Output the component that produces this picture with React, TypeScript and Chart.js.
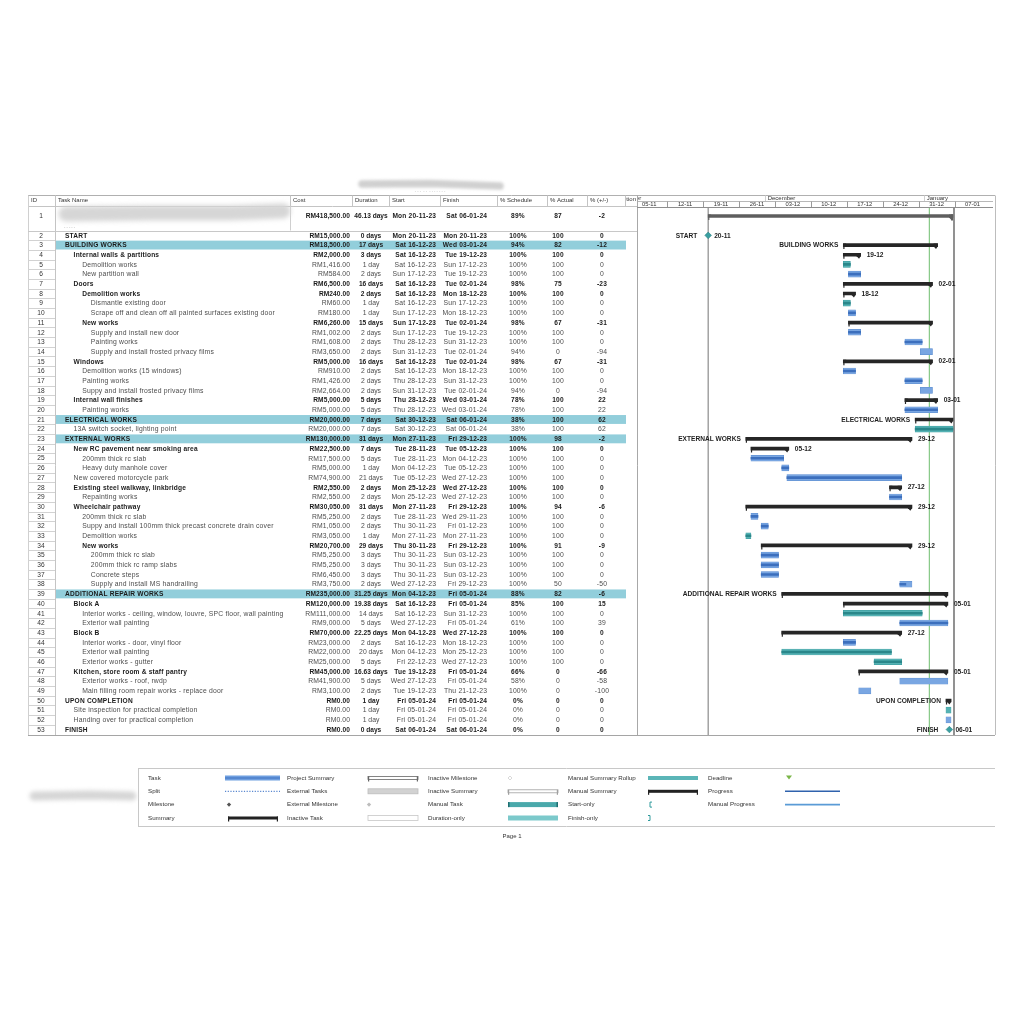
import React, { useEffect, useRef } from "react";
import { Chart, registerables } from "chart.js";

Chart.register(...registerables);

// ---------------- data ----------------
const taskIds = [
  1, 2, 3, 4, 5, 6, 7, 8, 9, 10, 11, 12, 13, 14, 15, 16, 17, 18, 19, 20, 21, 22, 23, 24, 25, 26, 27,
  28, 29, 30, 31, 32, 33, 34, 35, 36, 37, 38, 39, 40, 41, 42, 43, 44, 45, 46, 47, 48, 49, 50, 51, 52, 53,
];

const taskNames = [
  "",
  "START",
  "BUILDING WORKS",
  "Internal walls & partitions",
  "Demolition works",
  "New partition wall",
  "Doors",
  "Demolition works",
  "Dismantle existing door",
  "Scrape off and clean off all painted surfaces existing door",
  "New works",
  "Supply and install new door",
  "Painting works",
  "Supply and install frosted privacy films",
  "Windows",
  "Demolition works (15 windows)",
  "Painting works",
  "Suppy and install frosted privacy films",
  "Internal wall finishes",
  "Painting works",
  "ELECTRICAL WORKS",
  "13A switch socket, lighting point",
  "EXTERNAL WORKS",
  "New RC pavement near smoking area",
  "200mm thick rc slab",
  "Heavy duty manhole cover",
  "New covered motorcycle park",
  "Existing steel walkway, linkbridge",
  "Repainting works",
  "Wheelchair pathway",
  "200mm thick rc slab",
  "Suppy and install 100mm thick precast concrete drain cover",
  "Demolition works",
  "New works",
  "200mm thick rc slab",
  "200mm thick rc ramp slabs",
  "Concrete steps",
  "Supply and install MS handrailing",
  "ADDITIONAL REPAIR WORKS",
  "Block A",
  "Interior works - ceiling, window, louvre, SPC floor, wall painting",
  "Exterior wall painting",
  "Block B",
  "Interior works - door, vinyl floor",
  "Exterior wall painting",
  "Exterior works - gutter",
  "Kitchen, store room & staff pantry",
  "Exterior works - roof, rwdp",
  "Main filling room repair works - replace door",
  "UPON COMPLETION",
  "Site inspection for practical completion",
  "Handing over for practical completion",
  "FINISH",
];

const outlineLevels = [
  0, 1, 1, 2, 3, 3, 2, 3, 4, 4, 3, 4, 4, 4, 2, 3, 3, 3, 2, 3, 1, 2, 1, 2, 3, 3, 2, 2, 3, 2, 3, 3, 3,
  3, 4, 4, 4, 4, 1, 2, 3, 3, 2, 3, 3, 3, 2, 3, 3, 1, 2, 2, 1,
];

// P = project summary, S = summary, M = milestone, T = auto task, C = manual task
const barKinds = [
  "P", "M", "S", "S", "C", "T", "S", "S", "C", "T", "S", "T", "T", "T", "S", "T", "T", "T", "S", "T",
  "S", "C", "S", "S", "T", "T", "T", "S", "T", "S", "T", "T", "C", "S", "T", "T", "T", "T", "S", "S",
  "C", "T", "S", "T", "C", "C", "S", "T", "T", "S", "C", "T", "M",
];

const costs = [
  "RM418,500.00", "RM15,000.00", "RM18,500.00", "RM2,000.00", "RM1,416.00", "RM584.00", "RM6,500.00",
  "RM240.00", "RM60.00", "RM180.00", "RM6,260.00", "RM1,002.00", "RM1,608.00", "RM3,650.00",
  "RM5,000.00", "RM910.00", "RM1,426.00", "RM2,664.00", "RM5,000.00", "RM5,000.00", "RM20,000.00",
  "RM20,000.00", "RM130,000.00", "RM22,500.00", "RM17,500.00", "RM5,000.00", "RM74,900.00",
  "RM2,550.00", "RM2,550.00", "RM30,050.00", "RM5,250.00", "RM1,050.00", "RM3,050.00", "RM20,700.00",
  "RM5,250.00", "RM5,250.00", "RM6,450.00", "RM3,750.00", "RM235,000.00", "RM120,000.00",
  "RM111,000.00", "RM9,000.00", "RM70,000.00", "RM23,000.00", "RM22,000.00", "RM25,000.00",
  "RM45,000.00", "RM41,900.00", "RM3,100.00", "RM0.00", "RM0.00", "RM0.00", "RM0.00",
];

const durations = [
  "46.13 days", "0 days", "17 days", "3 days", "1 day", "2 days", "16 days", "2 days", "1 day", "1 day",
  "15 days", "2 days", "2 days", "2 days", "16 days", "2 days", "2 days", "2 days", "5 days", "5 days",
  "7 days", "7 days", "31 days", "7 days", "5 days", "1 day", "21 days", "2 days", "2 days", "31 days",
  "2 days", "2 days", "1 day", "29 days", "3 days", "3 days", "3 days", "2 days", "31.25 days",
  "19.38 days", "14 days", "5 days", "22.25 days", "2 days", "20 days", "5 days", "16.63 days", "5 days",
  "2 days", "1 day", "1 day", "1 day", "0 days",
];

const startDates = [
  "Mon 20-11-23", "Mon 20-11-23", "Sat 16-12-23", "Sat 16-12-23", "Sat 16-12-23", "Sun 17-12-23",
  "Sat 16-12-23", "Sat 16-12-23", "Sat 16-12-23", "Sun 17-12-23", "Sun 17-12-23", "Sun 17-12-23",
  "Thu 28-12-23", "Sun 31-12-23", "Sat 16-12-23", "Sat 16-12-23", "Thu 28-12-23", "Sun 31-12-23",
  "Thu 28-12-23", "Thu 28-12-23", "Sat 30-12-23", "Sat 30-12-23", "Mon 27-11-23", "Tue 28-11-23",
  "Tue 28-11-23", "Mon 04-12-23", "Tue 05-12-23", "Mon 25-12-23", "Mon 25-12-23", "Mon 27-11-23",
  "Tue 28-11-23", "Thu 30-11-23", "Mon 27-11-23", "Thu 30-11-23", "Thu 30-11-23", "Thu 30-11-23",
  "Thu 30-11-23", "Wed 27-12-23", "Mon 04-12-23", "Sat 16-12-23", "Sat 16-12-23", "Wed 27-12-23",
  "Mon 04-12-23", "Sat 16-12-23", "Mon 04-12-23", "Fri 22-12-23", "Tue 19-12-23", "Wed 27-12-23",
  "Tue 19-12-23", "Fri 05-01-24", "Fri 05-01-24", "Fri 05-01-24", "Sat 06-01-24",
];

const finishDates = [
  "Sat 06-01-24", "Mon 20-11-23", "Wed 03-01-24", "Tue 19-12-23", "Sun 17-12-23", "Tue 19-12-23",
  "Tue 02-01-24", "Mon 18-12-23", "Sun 17-12-23", "Mon 18-12-23", "Tue 02-01-24", "Tue 19-12-23",
  "Sun 31-12-23", "Tue 02-01-24", "Tue 02-01-24", "Mon 18-12-23", "Sun 31-12-23", "Tue 02-01-24",
  "Wed 03-01-24", "Wed 03-01-24", "Sat 06-01-24", "Sat 06-01-24", "Fri 29-12-23", "Tue 05-12-23",
  "Mon 04-12-23", "Tue 05-12-23", "Wed 27-12-23", "Wed 27-12-23", "Wed 27-12-23", "Fri 29-12-23",
  "Wed 29-11-23", "Fri 01-12-23", "Mon 27-11-23", "Fri 29-12-23", "Sun 03-12-23", "Sun 03-12-23",
  "Sun 03-12-23", "Fri 29-12-23", "Fri 05-01-24", "Fri 05-01-24", "Sun 31-12-23", "Fri 05-01-24",
  "Wed 27-12-23", "Mon 18-12-23", "Mon 25-12-23", "Wed 27-12-23", "Fri 05-01-24", "Fri 05-01-24",
  "Thu 21-12-23", "Fri 05-01-24", "Fri 05-01-24", "Fri 05-01-24", "Sat 06-01-24",
];

const pctSchedule = [
  89, 100, 94, 100, 100, 100, 98, 100, 100, 100, 98, 100, 100, 94, 98, 100, 100, 94, 78, 78, 38, 38,
  100, 100, 100, 100, 100, 100, 100, 100, 100, 100, 100, 100, 100, 100, 100, 100, 88, 85, 100, 61, 100,
  100, 100, 100, 66, 58, 100, 0, 0, 0, 0,
];

const pctActual = [
  87, 100, 82, 100, 100, 100, 75, 100, 100, 100, 67, 100, 100, 0, 67, 100, 100, 0, 100, 100, 100, 100,
  98, 100, 100, 100, 100, 100, 100, 94, 100, 100, 100, 91, 100, 100, 100, 50, 82, 100, 100, 100, 100,
  100, 100, 100, 0, 0, 0, 0, 0, 0, 0,
];

const pctDiff = [
  -2, 0, -12, 0, 0, 0, -23, 0, 0, 0, -31, 0, 0, -94, -31, 0, 0, -94, 22, 22, 62, 62, -2, 0, 0, 0, 0,
  0, 0, -6, 0, 0, 0, -9, 0, 0, 0, -50, -6, 15, 0, 39, 0, 0, 0, 0, -66, -58, -100, 0, 0, 0, 0,
];

const leftBarLabels = [
  "", "START", "BUILDING WORKS", "", "", "", "", "", "", "", "", "", "", "", "", "", "", "", "", "",
  "ELECTRICAL WORKS", "", "EXTERNAL WORKS", "", "", "", "", "", "", "", "", "", "", "", "", "", "", "",
  "ADDITIONAL REPAIR WORKS", "", "", "", "", "", "", "", "", "", "", "UPON COMPLETION", "", "", "FINISH",
];

const rightBarLabels = [
  "", "20-11", "", "19-12", "", "", "02-01", "18-12", "", "", "", "", "", "", "02-01", "", "", "",
  "03-01", "", "", "", "29-12", "05-12", "", "", "", "27-12", "", "29-12", "", "", "", "29-12", "", "",
  "", "", "", "05-01", "", "", "27-12", "", "", "", "05-01", "", "", "", "", "", "06-01",
];

const highlightedIds = [3, 21, 23, 39];

const columnHeaders = ["ID", "Task Name", "Cost", "Duration", "Start", "Finish", "% Schedule", "% Actual", "% (+/-)"];

const weekStartDates = [
  "05-11-23", "12-11-23", "19-11-23", "26-11-23", "03-12-23", "10-12-23", "17-12-23", "24-12-23",
  "31-12-23", "07-01-24",
];
const weekLabels = ["05-11", "12-11", "19-11", "26-11", "03-12", "10-12", "17-12", "24-12", "31-12", "07-01"];
const monthStartDates = ["01-11-23", "01-12-23", "01-01-24"];
const monthLabels = ["November", "December", "January"];

const statusDate = "Tue 02-01-24";

const legendCol1 = ["Task", "Split", "Milestone", "Summary"];
const legendCol2 = ["Project Summary", "External Tasks", "External Milestone", "Inactive Task"];
const legendCol3 = ["Inactive Milestone", "Inactive Summary", "Manual Task", "Duration-only"];
const legendCol4 = ["Manual Summary Rollup", "Manual Summary", "Start-only", "Finish-only"];
const legendCol5 = ["Deadline", "Progress", "Manual Progress"];

// ---------------- helpers ----------------
const FONT = '"Liberation Sans", Arial, sans-serif';
const EPOCH = Date.UTC(2023, 10, 19);
const START_FRAC = 0.33;
const FINISH_FRAC = 0.71;

function dayIndex(s: string) {
  const part = s.includes(" ") ? s.split(" ")[1] : s;
  const [d, m, y] = part.split("-").map(Number);
  return (Date.UTC(2000 + y, m - 1, d) - EPOCH) / 86400000;
}

const rowKeys = ["r1", "gap", ...taskIds.slice(1).map((id) => "r" + id)];
const rowIndex = (id: number) => (id === 1 ? 0 : id);

function barSpan(i: number) {
  const kind = barKinds[i];
  const s = dayIndex(startDates[i]);
  const f = dayIndex(finishDates[i]);
  const a = kind === "P" ? s : s + START_FRAC;
  let b = f + FINISH_FRAC;
  if (b - a < 1) b = a + 1;
  return [a, b];
}

function buildSeries() {
  const n = rowKeys.length;
  const summary: any[] = new Array(n).fill(null);
  const summaryColors: string[] = new Array(n).fill("#262626");
  const blue: any[] = new Array(n).fill(null);
  const teal: any[] = new Array(n).fill(null);
  const progBlue: any[] = new Array(n).fill(null);
  const progTeal: any[] = new Array(n).fill(null);
  const miles: any[] = [];
  taskIds.forEach((id, i) => {
    const k = rowIndex(id);
    const kind = barKinds[i];
    if (kind === "M") {
      miles.push({ x: dayIndex(startDates[i]), y: rowKeys[k] });
      return;
    }
    const [a, b] = barSpan(i);
    const p = a + ((b - a) * pctActual[i]) / 100;
    if (kind === "P" || kind === "S") {
      summary[k] = [a, b];
      if (kind === "P") summaryColors[k] = "#5e5e5e";
    } else if (kind === "T") {
      blue[k] = [a, b];
      if (pctActual[i] > 0) progBlue[k] = [a, p];
    } else {
      teal[k] = [a, b];
      if (pctActual[i] > 0) progTeal[k] = [a, p];
    }
  });
  return { summary, summaryColors, blue, teal, progBlue, progTeal, miles };
}

function hline(ctx: any, x1: number, x2: number, y: number, color: string, w = 1) {
  ctx.strokeStyle = color;
  ctx.lineWidth = w;
  ctx.beginPath();
  ctx.moveTo(x1, y);
  ctx.lineTo(x2, y);
  ctx.stroke();
}
function vline(ctx: any, x: number, y1: number, y2: number, color: string, w = 1) {
  ctx.strokeStyle = color;
  ctx.lineWidth = w;
  ctx.beginPath();
  ctx.moveTo(x, y1);
  ctx.lineTo(x, y2);
  ctx.stroke();
}
function text(ctx: any, s: string, x: number, y: number, align: string, font: string, color: string, spacing = 0) {
  ctx.font = font;
  ctx.fillStyle = color;
  ctx.textAlign = align;
  ctx.textBaseline = "middle";
  ctx.letterSpacing = spacing + "px";
  const dx = spacing && align === "right" ? spacing : 0;
  ctx.fillText(s, x + dx, y);
  ctx.letterSpacing = "0px";
}
function smear(ctx: any, pts: number[][], width: number, color: string, blur: number) {
  ctx.save();
  ctx.filter = `blur(${blur}px)`;
  ctx.strokeStyle = color;
  ctx.lineWidth = width;
  ctx.lineCap = "round";
  ctx.lineJoin = "round";
  ctx.beginPath();
  pts.forEach(([x, y], j) => (j ? ctx.lineTo(x, y) : ctx.moveTo(x, y)));
  ctx.stroke();
  ctx.restore();
}

// layout constants
const TABLE_LEFT = 28;
const GANTT_LEFT = 637;
const GANTT_RIGHT = 993;
const FRAME_RIGHT = 995;
const HEADER_TOP = 195.5;
const HEADER_BOTTOM = 206.5;
const TABLE_BOTTOM = 735;
const COL_SEPS = [55, 290, 352, 389, 440, 497, 547, 587, 625];
const HEADER_X = [31, 58, 293, 355, 392, 443, 500, 550, 590];

const tablePlugin = {
  id: "ganttTable",
  beforeDatasetsDraw(chart: any) {
    const ctx = chart.ctx;
    const xs = chart.scales.x;
    const ys = chart.scales.y;
    const band = ys.getPixelForValue(1) - ys.getPixelForValue(0);
    ctx.save();

    // title redaction smear
    smear(ctx, [[362, 184], [430, 183.5], [500, 186]], 7.5, "#d0d0d0", 1.6);
    text(ctx, "- - -  - -  - - - - - - -", 430, 190.5, "center", `4px ${FONT}`, "#c9c9c9");

    // highlighted rows
    taskIds.forEach((id) => {
      if (!highlightedIds.includes(id)) return;
      const y = ys.getPixelForValue(rowIndex(id));
      ctx.fillStyle = "#92cedb";
      ctx.fillRect(56, y - band / 2 + 0.4, 626 - 56, band - 0.8);
    });

    // frame / grid lines
    hline(ctx, TABLE_LEFT, FRAME_RIGHT, HEADER_TOP, "#b0b0b0");
    hline(ctx, TABLE_LEFT, GANTT_LEFT, HEADER_BOTTOM, "#c4c4c4");
    COL_SEPS.forEach((x) => vline(ctx, x + 0.5, HEADER_TOP, HEADER_BOTTOM, "#c4c4c4"));
    vline(ctx, 290.5, HEADER_BOTTOM, ys.getPixelForValue(1) + band / 2, "#cfcfcf");
    vline(ctx, TABLE_LEFT + 0.5, HEADER_TOP, TABLE_BOTTOM, "#d0d0d0");
    vline(ctx, 55.5, HEADER_TOP, TABLE_BOTTOM, "#c4c4c4");
    vline(ctx, GANTT_LEFT + 0.5, HEADER_TOP, TABLE_BOTTOM, "#a8a8a8");
    vline(ctx, FRAME_RIGHT + 0.5, HEADER_TOP, TABLE_BOTTOM, "#bdbdbd");
    hline(ctx, TABLE_LEFT, FRAME_RIGHT, TABLE_BOTTOM + 0.5, "#a5a5a5");
    hline(ctx, TABLE_LEFT, GANTT_LEFT, Math.round(ys.getPixelForValue(1) + band / 2) + 0.5, "#c8c8c8");
    for (let k = 2; k < rowKeys.length - 1; k++) {
      const y = Math.round(ys.getPixelForValue(k) + band / 2) + 0.5;
      hline(ctx, TABLE_LEFT, 55, y, "#d2d2d2");
    }

    // column headers
    columnHeaders.forEach((h, j) => text(ctx, h, HEADER_X[j], 200.5, "left", `6px ${FONT}`, "#333"));
    text(ctx, "tion", 636, 199.5, "right", `6px ${FONT}`, "#333");

    // gantt timescale
    ctx.save();
    ctx.beginPath();
    ctx.rect(GANTT_LEFT + 1, HEADER_TOP - 1, GANTT_RIGHT - GANTT_LEFT - 1, 14);
    ctx.clip();
    monthStartDates.forEach((m, j) => {
      const x = xs.getPixelForValue(dayIndex(m));
      vline(ctx, Math.round(x) + 0.5, HEADER_TOP, 201.5, "#d0d0d0");
      text(ctx, monthLabels[j], x + 3, 198.6, "left", `6px ${FONT}`, "#333");
    });
    hline(ctx, GANTT_LEFT, GANTT_RIGHT, 201.5, "#b8b8b8");
    weekStartDates.forEach((w, j) => {
      const x = xs.getPixelForValue(dayIndex(w));
      vline(ctx, Math.round(x) + 0.5, 201.5, 207.5, "#9a9a9a");
      text(ctx, weekLabels[j], xs.getPixelForValue(dayIndex(w) + 3.5), 204.8, "center", `5.8px ${FONT}`, "#333");
    });
    ctx.restore();
    hline(ctx, GANTT_LEFT, GANTT_RIGHT, 207.5, "#8e8e8e");

    // table body text
    taskIds.forEach((id, i) => {
      const y = ys.getPixelForValue(rowIndex(id)) + 0.4;
      const bold = barKinds[i] !== "T" && barKinds[i] !== "C";
      const f = bold ? `bold 6.6px ${FONT}` : `6.8px ${FONT}`;
      const c = bold ? "#1b1b1b" : "#4d4d4d";
      const sp = 0.2;
      text(ctx, String(id), 41, y, "center", `6.6px ${FONT}`, "#333");
      if (taskNames[i]) text(ctx, taskNames[i], 65 + (outlineLevels[i] - 1) * 8.6, y, "left", f, c, sp);
      text(ctx, costs[i], 350, y, "right", f, c, 0.1);
      text(ctx, durations[i], 371, y, "center", f, c, 0);
      text(ctx, startDates[i], 436, y, "right", f, c, sp);
      text(ctx, finishDates[i], 487, y, "right", f, c, sp);
      text(ctx, pctSchedule[i] + "%", 518, y, "center", f, c, sp);
      text(ctx, String(pctActual[i]), 558, y, "center", f, c, sp);
      text(ctx, String(pctDiff[i]), 602, y, "center", f, c, sp);
    });

    // redacted project name
    smear(ctx, [[66, 214], [150, 213], [230, 213], [283, 211]], 15, "#d6d6d6", 2.4);
    text(ctx, "- - - - -", 64, 227, "left", `4px ${FONT}`, "#bdbdbd");

    // gantt vertical lines
    const top = 208;
    const startX = xs.getPixelForValue(dayIndex(startDates[0]));
    const finishX = xs.getPixelForValue(dayIndex(finishDates[0]) + 0.9);
    const statusX = xs.getPixelForValue(dayIndex(statusDate) + 0.1);
    vline(ctx, startX, top, TABLE_BOTTOM, "#8c8c8c", 1.2);
    vline(ctx, finishX, top, TABLE_BOTTOM, "#777", 1.6);
    vline(ctx, statusX, top, TABLE_BOTTOM, "#86c886", 1.2);
    ctx.restore();
  },
  afterDatasetsDraw(chart: any) {
    const ctx = chart.ctx;
    const xs = chart.scales.x;
    const ys = chart.scales.y;
    ctx.save();
    taskIds.forEach((id, i) => {
      const kind = barKinds[i];
      const y = ys.getPixelForValue(rowIndex(id));
      let a: number, b: number;
      if (kind === "M") {
        a = b = xs.getPixelForValue(dayIndex(startDates[i]));
        a -= 6;
        b += 6;
      } else {
        const [s, e] = barSpan(i);
        a = xs.getPixelForValue(s);
        b = xs.getPixelForValue(e);
      }
      if (kind === "S" || kind === "P") {
        ctx.fillStyle = kind === "P" ? "#5e5e5e" : "#262626";
        ctx.beginPath();
        ctx.moveTo(a, y - 1.5);
        ctx.lineTo(a + 3, y - 1.5);
        ctx.lineTo(a + 1.2, y + 1.5);
        ctx.lineTo(a + 1.2, y + 4);
        ctx.lineTo(a, y + 4);
        ctx.closePath();
        ctx.fill();
        ctx.beginPath();
        ctx.moveTo(b, y - 1.5);
        ctx.lineTo(b, y + 1.5);
        ctx.lineTo(b - 1.6, y + 4);
        ctx.lineTo(b - 4, y + 1.5);
        ctx.lineTo(b - 4, y - 1.5);
        ctx.closePath();
        ctx.fill();
        if (kind === "P") ctx.fillRect(b - 2, y - 1.5, 2, 6);
      }
      if (leftBarLabels[i]) text(ctx, leftBarLabels[i], a - 5, y + 0.3, "right", `bold 6.6px ${FONT}`, "#1f1f1f");
      if (rightBarLabels[i]) {
        const off = kind === "M" ? 0 : 6;
        text(ctx, rightBarLabels[i], b + off, y + 0.3, "left", `bold 6.6px ${FONT}`, "#1f1f1f");
      }
    });
    ctx.restore();
  },
  afterDraw(chart: any) {
    const ctx = chart.ctx;
    ctx.save();
    // legend frame
    hline(ctx, 138, FRAME_RIGHT, 768.5, "#c8c8c8");
    hline(ctx, 138, FRAME_RIGHT, 826.5, "#c8c8c8");
    vline(ctx, 138.5, 768.5, 826.5, "#c8c8c8");
    smear(ctx, [[34, 796], [90, 795], [132, 796]], 9, "#d6d6d6", 2);
    const rowsY = [778, 791.3, 804.6, 818];
    const lf = `6.2px ${FONT}`;
    legendCol1.forEach((s, j) => text(ctx, s, 148, rowsY[j], "left", lf, "#333"));
    legendCol2.forEach((s, j) => text(ctx, s, 287, rowsY[j], "left", lf, "#333"));
    legendCol3.forEach((s, j) => text(ctx, s, 428, rowsY[j], "left", lf, "#333"));
    legendCol4.forEach((s, j) => text(ctx, s, 568, rowsY[j], "left", lf, "#333"));
    legendCol5.forEach((s, j) => text(ctx, s, 708, rowsY[j], "left", lf, "#333"));

    const bar = (x1: number, x2: number, y: number, h: number, fill: string, stroke?: string) => {
      ctx.fillStyle = fill;
      ctx.fillRect(x1, y - h / 2, x2 - x1, h);
      if (stroke) {
        ctx.strokeStyle = stroke;
        ctx.lineWidth = 0.8;
        ctx.strokeRect(x1, y - h / 2, x2 - x1, h);
      }
    };
    const bracket = (x1: number, x2: number, y: number, color: string, outline: boolean) => {
      if (outline) {
        ctx.strokeStyle = color;
        ctx.lineWidth = 0.8;
        ctx.strokeRect(x1, y - 1.5, x2 - x1, 3);
      } else {
        ctx.fillStyle = color;
        ctx.fillRect(x1, y - 1.5, x2 - x1, 3);
      }
      ctx.fillStyle = color;
      ctx.fillRect(x1, y - 1.5, 1.2, 5);
      ctx.fillRect(x2 - 1.2, y - 1.5, 1.2, 5);
    };
    const diamond = (x: number, y: number, r: number, fill: string, stroke?: string) => {
      ctx.beginPath();
      ctx.moveTo(x, y - r);
      ctx.lineTo(x + r, y);
      ctx.lineTo(x, y + r);
      ctx.lineTo(x - r, y);
      ctx.closePath();
      ctx.fillStyle = fill;
      ctx.fill();
      if (stroke) {
        ctx.strokeStyle = stroke;
        ctx.lineWidth = 0.6;
        ctx.stroke();
      }
    };
    // column 1 symbols
    bar(225, 280, rowsY[0], 5, "#6f9fe0");
    hline(ctx, 225, 280, rowsY[0], "#3f72bf", 1.2);
    ctx.save();
    ctx.setLineDash([1.2, 1.5]);
    hline(ctx, 225, 280, rowsY[1], "#5a88cf", 1.2);
    ctx.restore();
    diamond(229, rowsY[2], 2.2, "#555");
    bracket(228, 278, rowsY[3], "#222", false);
    // column 2
    bracket(368, 418, rowsY[0], "#666", true);
    bar(368, 418, rowsY[1], 5, "#d2d2d2", "#bdbdbd");
    diamond(369, rowsY[2], 2.2, "#bdbdbd");
    bar(368, 418, rowsY[3], 5, "#ffffff", "#c7c7c7");
    // column 3
    diamond(510, rowsY[0], 2, "#ffffff", "#c0c0c0");
    bracket(508, 558, rowsY[1], "#a0a0a0", true);
    bar(508, 558, rowsY[2], 5, "#4aa9ab");
    ctx.fillStyle = "#1f6f72";
    ctx.fillRect(508, rowsY[2] - 2.5, 1.5, 5);
    ctx.fillRect(556.5, rowsY[2] - 2.5, 1.5, 5);
    bar(508, 558, rowsY[3], 5, "#7cc9cb");
    // column 4
    bar(648, 698, rowsY[0], 4, "#5bb5b7");
    bracket(648, 698, rowsY[1], "#222", false);
    ctx.strokeStyle = "#2f9a9c";
    ctx.lineWidth = 1;
    ctx.beginPath();
    ctx.moveTo(652, rowsY[2] - 2.5);
    ctx.lineTo(650, rowsY[2] - 2.5);
    ctx.lineTo(650, rowsY[2] + 2.5);
    ctx.lineTo(652, rowsY[2] + 2.5);
    ctx.stroke();
    ctx.beginPath();
    ctx.moveTo(648, rowsY[3] - 2.5);
    ctx.lineTo(650, rowsY[3] - 2.5);
    ctx.lineTo(650, rowsY[3] + 2.5);
    ctx.lineTo(648, rowsY[3] + 2.5);
    ctx.stroke();
    // column 5
    ctx.fillStyle = "#7ab648";
    ctx.beginPath();
    ctx.moveTo(786, rowsY[0] - 2.5);
    ctx.lineTo(792, rowsY[0] - 2.5);
    ctx.lineTo(789, rowsY[0] + 1.5);
    ctx.closePath();
    ctx.fill();
    hline(ctx, 785, 840, rowsY[1], "#2f62ad", 1.6);
    hline(ctx, 785, 840, rowsY[2], "#5a9bd6", 1.6);

    text(ctx, "Page 1", 512, 836.5, "center", `6px ${FONT}`, "#333");
    ctx.restore();
  },
};

export default function App() {
  const ref = useRef<HTMLCanvasElement>(null);
  useEffect(() => {
    const ser = buildSeries();
    const chart = new Chart(ref.current as HTMLCanvasElement, {
      type: "bar",
      data: {
        labels: rowKeys,
        datasets: [
          {
            type: "line",
            label: "Milestones",
            data: ser.miles,
            showLine: false,
            pointStyle: "rectRot",
            pointRadius: 3.3,
            pointBackgroundColor: "#3a9fa1",
            pointBorderColor: "#2a8183",
            pointBorderWidth: 0.6,
            order: 0,
          } as any,
          {
            label: "Progress",
            data: ser.progBlue,
            backgroundColor: "#3c6fbd",
            barThickness: 2,
            grouped: false,
            order: 1,
          } as any,
          {
            label: "Manual progress",
            data: ser.progTeal,
            backgroundColor: "#2a878a",
            barThickness: 2,
            grouped: false,
            order: 1,
          } as any,
          {
            label: "Task",
            data: ser.blue,
            backgroundColor: "#79a6e2",
            borderColor: "#5c8ccf",
            borderWidth: 0.5,
            borderSkipped: false,
            barThickness: 6,
            grouped: false,
            order: 2,
          } as any,
          {
            label: "Manual Task",
            data: ser.teal,
            backgroundColor: "#55b2b4",
            borderColor: "#3b9a9c",
            borderWidth: 0.5,
            borderSkipped: false,
            barThickness: 6,
            grouped: false,
            order: 2,
          } as any,
          {
            label: "Summary",
            data: ser.summary,
            backgroundColor: ser.summaryColors,
            barThickness: 3,
            grouped: false,
            order: 3,
          } as any,
        ],
      },
      options: {
        animation: false,
        responsive: true,
        maintainAspectRatio: false,
        indexAxis: "y",
        events: [],
        layout: {
          padding: { left: GANTT_LEFT, right: 1024 - GANTT_RIGHT, top: 211.15, bottom: 1024 - 734.4 },
        },
        plugins: {
          legend: { display: false },
          tooltip: { enabled: false },
          title: { display: false },
        },
        scales: {
          x: { type: "linear", min: -12.87, max: 56.5, display: false },
          y: { type: "category", display: false, offset: true },
        },
      } as any,
      plugins: [tablePlugin],
    });
    return () => chart.destroy();
  }, []);
  return (
    <div style={{ position: "absolute", left: 0, top: 0, width: 1024, height: 1024, background: "#fff" }}>
      <canvas ref={ref} />
    </div>
  );
}
